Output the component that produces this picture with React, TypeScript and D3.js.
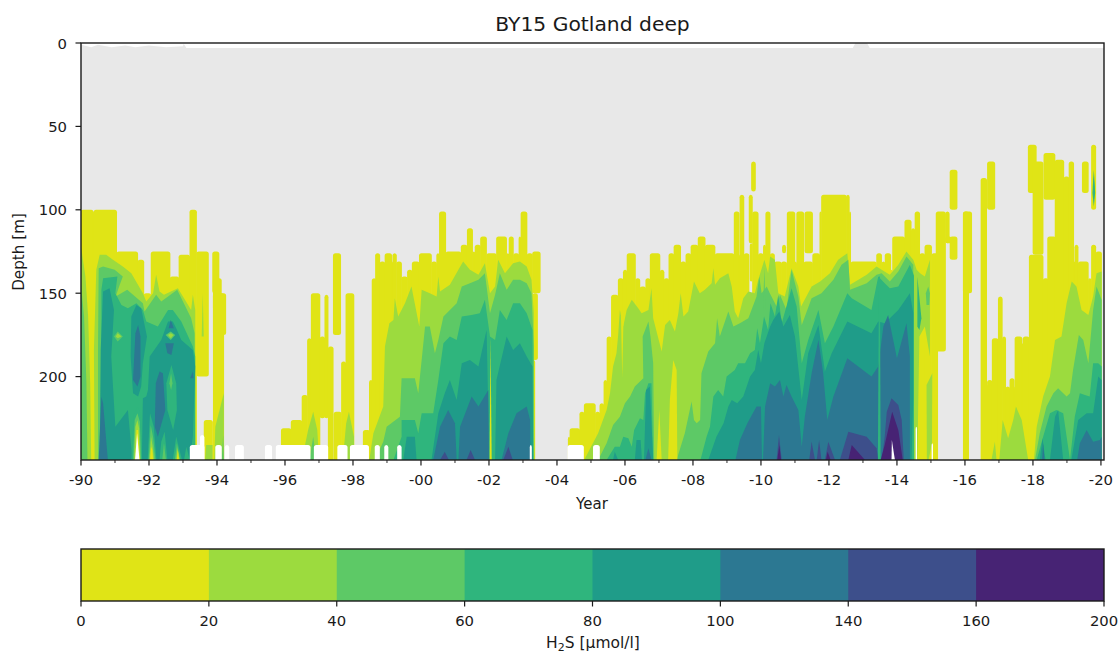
import React from "react";
import * as d3 from "d3";

type P = [number, number];

const bandEdges = [0, 20, 40, 60, 80, 100, 140, 160, 200];
const bandColors = ["#e0e416", "#9cdb3e", "#5dc966", "#2fb57d", "#1f9c89", "#2c7892", "#3d4f8b", "#472374"];
const yearTicks = d3.range(1990, 2021, 2);
const minorYears = d3.range(1991, 2021, 2);
const depthTicks = [0, 50, 100, 150, 200];

// [start year, end year, top depth, bottom depth] of the 0-20 columns
const yellowA = [
  [1990, 1990.36, 100, 250], [1990.36, 1990.39, 101, 250], [1990.38, 1991.05, 100, 250], [1991.05, 1991.67, 125, 250],
  [1991.67, 1991.85, 130, 250], [1991.85, 1992.06, 150, 250], [1992.06, 1992.62, 125, 250], [1992.62, 1992.88, 140, 250],
  [1992.88, 1993.2, 127, 250], [1993.2, 1993.4, 100, 250], [1993.4, 1993.75, 125, 200], [1993.62, 1993.87, 226, 250],
  [1993.87, 1994.06, 125, 150], [1993.89, 1994.13, 141, 160], [1993.89, 1994.26, 150, 175], [1993.89, 1994.2, 150, 250],
];
const yellowGap = [
  [1995.89, 1996.18, 231, 250], [1996.18, 1996.5, 226, 250], [1996.5, 1996.66, 211, 250], [1996.66, 1996.77, 177, 250],
  [1996.77, 1997.03, 150, 250], [1997.03, 1997.17, 176, 225], [1997.17, 1997.27, 151, 225], [1997.27, 1997.42, 182, 250],
  [1997.42, 1997.64, 126, 175], [1997.44, 1997.66, 221, 250], [1997.66, 1997.79, 191, 250], [1997.79, 1998.03, 150, 250],
];
const yellowB = [
  [1998.3, 1998.5, 232, 250], [1998.48, 1998.58, 202, 250], [1998.56, 1998.68, 141, 250], [1998.66, 1998.79, 126, 250],
  [1998.79, 1998.94, 131, 250], [1998.94, 1999.14, 126, 250], [1999.14, 1999.17, 131, 250], [1999.17, 1999.28, 126, 250],
  [1999.28, 1999.43, 131, 250], [1999.43, 1999.6, 140, 250], [1999.6, 1999.74, 136, 250], [1999.74, 1999.95, 131, 250],
  [1999.95, 2000.31, 126, 250], [2000.31, 2000.46, 131, 250], [2000.46, 2000.54, 126, 250], [2000.54, 2000.73, 101, 250],
  [2000.73, 2001.18, 125, 250], [2001.18, 2001.36, 121, 250], [2001.36, 2001.52, 111, 250], [2001.52, 2001.59, 125, 250],
  [2001.59, 2001.75, 121, 250], [2001.75, 2001.93, 116, 250], [2001.93, 2002.22, 126, 250], [2002.22, 2002.52, 116, 250],
  [2002.52, 2002.59, 126, 250], [2002.59, 2002.72, 116, 250], [2002.72, 2002.88, 126, 250], [2002.88, 2002.94, 116, 250],
  [2002.94, 2003.12, 101, 250], [2003.12, 2003.28, 126, 250], [2003.28, 2003.51, 125, 150], [2003.28, 2003.43, 150, 190],
  [2003.28, 2003.35, 190, 250],
];
const yellowC = [
  [2004.33, 2004.38, 236, 250], [2004.38, 2004.67, 231, 250], [2004.67, 2004.8, 221, 250], [2004.8, 2005.13, 216, 250],
  [2005.13, 2005.26, 221, 250], [2005.26, 2005.38, 216, 250], [2005.38, 2005.47, 202, 250], [2005.47, 2005.6, 176, 250],
  [2005.6, 2005.8, 151, 250], [2005.8, 2005.95, 141, 250], [2005.95, 2006.06, 136, 250], [2006.06, 2006.31, 126, 250],
  [2006.31, 2006.44, 141, 250], [2006.44, 2006.61, 146, 250], [2006.61, 2006.74, 141, 250], [2006.74, 2007.03, 126, 250],
  [2007.03, 2007.15, 136, 250], [2007.15, 2007.29, 141, 250], [2007.29, 2007.44, 126, 250], [2007.44, 2007.64, 121, 250],
  [2007.64, 2007.79, 131, 250], [2007.79, 2007.94, 126, 250], [2007.94, 2008.15, 121, 250], [2008.15, 2008.36, 116, 250],
  [2008.36, 2008.65, 121, 250], [2008.65, 2009.21, 126, 250], [2009.21, 2009.36, 101, 250], [2009.36, 2009.38, 127, 250],
  [2009.38, 2009.5, 91, 250], [2009.5, 2009.65, 126, 250], [2009.65, 2009.75, 91, 120], [2009.68, 2009.75, 120, 143],
  [2009.72, 2009.84, 71, 89], [2009.75, 2009.92, 101, 250], [2009.92, 2010.07, 126, 250], [2010.07, 2010.14, 121, 250],
  [2010.14, 2010.27, 101, 250], [2010.27, 2010.4, 126, 250], [2010.4, 2010.6, 131, 250], [2010.63, 2010.73, 121, 126],
  [2010.6, 2010.75, 131, 250], [2010.77, 2011, 101, 250], [2010.75, 2011.05, 131, 250], [2011.05, 2011.26, 101, 250],
  [2011.29, 2011.52, 101, 126], [2011.26, 2011.52, 131, 250], [2011.52, 2011.73, 126, 250], [2011.73, 2011.78, 101, 250],
  [2011.78, 2012.52, 91, 250], [2012.52, 2012.6, 91, 250], [2012.6, 2012.64, 101, 250], [2012.64, 2013.4, 131, 250],
  [2013.4, 2013.55, 126, 250], [2013.55, 2013.65, 131, 250], [2013.65, 2013.82, 126, 250], [2013.82, 2013.87, 136, 250],
  [2013.87, 2014.23, 116, 250], [2014.23, 2014.42, 106, 250], [2014.42, 2014.53, 111, 250], [2014.53, 2014.67, 101, 250],
  [2014.67, 2014.82, 126, 250], [2014.82, 2015.02, 121, 250], [2015.02, 2015.2, 126, 250], [2015.15, 2015.43, 101, 185],
  [2015.43, 2015.54, 101, 120], [2015.43, 2015.6, 116, 120],
];
const yellowD = [
  [2015.56, 2015.77, 76, 100], [2015.56, 2015.77, 116, 130], [2015.95, 2016.2, 101, 150], [2015.95, 2016.11, 101, 250],
  [2016.47, 2016.64, 81, 250], [2016.66, 2016.88, 71, 100], [2016.66, 2016.8, 202, 250], [2016.64, 2016.68, 205, 250],
  [2016.8, 2016.98, 177, 250], [2016.98, 2017.1, 152, 250], [2017.1, 2017.2, 176, 250], [2017.2, 2017.32, 206, 250],
  [2017.32, 2017.45, 201, 250], [2017.45, 2017.5, 206, 250], [2017.47, 2017.68, 176, 250], [2017.68, 2017.71, 180, 250],
  [2017.71, 2017.89, 176, 250], [2017.89, 2018.3, 127, 250], [2017.86, 2018.1, 61, 90], [2018, 2018.3, 71, 127],
  [2018.3, 2018.45, 141, 250], [2018.43, 2018.67, 116, 250], [2018.32, 2018.65, 66, 94], [2018.65, 2018.91, 70, 250],
  [2018.91, 2019.06, 80, 250], [2019.06, 2019.2, 71, 250], [2019.2, 2019.25, 131, 250], [2019.23, 2019.33, 121, 250],
  [2019.33, 2019.63, 131, 250], [2019.63, 2019.72, 141, 250], [2019.72, 2019.85, 121, 250], [2019.85, 2020.02, 125, 250],
  [2019.45, 2019.63, 71, 90], [2019.72, 2019.85, 61, 100],
];

const level20: P[][] = [
  [[1990, 122], [1990.13, 140], [1990.21, 164], [1990.27, 204], [1990.3, 250], [1990, 250]],
  [[1990.4, 250], [1990.38, 184], [1990.45, 136], [1990.55, 127], [1990.74, 127], [1990.94, 130], [1991.23, 134], [1991.48, 138], [1991.82, 150], [1991.92, 155], [1992.12, 150], [1992.21, 139], [1992.31, 149], [1992.44, 151], [1992.85, 147], [1993.24, 160], [1993.29, 151], [1993.36, 160], [1993.36, 250]],
  [[1998.48, 250], [1998.6, 234], [1998.89, 218], [1998.94, 182], [1999.07, 168], [1999.19, 166], [1999.23, 153], [1999.33, 164], [1999.53, 156], [1999.72, 146], [1999.95, 170], [2000.02, 148], [2000.26, 150], [2000.46, 152], [2000.51, 140], [2000.56, 149], [2000.85, 145], [2001.1, 136], [2001.24, 131], [2001.44, 136], [2001.69, 139], [2001.88, 132], [2002.03, 150], [2002.18, 146], [2002.27, 130], [2002.47, 138], [2002.71, 132], [2002.91, 131], [2003.11, 134], [2003.25, 142], [2003.32, 162], [2003.33, 250]],
  [[2004.8, 250], [2005.21, 234], [2005.46, 220], [2005.56, 210], [2005.65, 194], [2005.75, 186], [2005.8, 175], [2005.85, 160], [2005.95, 170], [2006.05, 160], [2006.2, 154], [2006.39, 159], [2006.49, 162], [2006.69, 160], [2006.78, 147], [2006.83, 165], [2007.08, 185], [2007.18, 169], [2007.32, 166], [2007.47, 173], [2007.57, 162], [2007.64, 150], [2007.72, 164], [2007.86, 161], [2008.03, 143], [2008.2, 150], [2008.35, 148], [2008.55, 144], [2008.6, 135], [2008.65, 145], [2008.79, 141], [2009.04, 138], [2009.14, 146], [2009.23, 161], [2009.33, 165], [2009.48, 153], [2009.63, 149], [2009.82, 150], [2009.92, 142], [2010.1, 130], [2010.21, 138], [2010.27, 128], [2010.41, 130], [2010.51, 150], [2010.7, 152], [2010.9, 135], [2011.1, 146], [2011.18, 158], [2011.49, 146], [2011.74, 143], [2012.03, 138], [2012.27, 130], [2012.54, 126], [2012.62, 145], [2013.11, 139], [2013.4, 134], [2013.55, 136], [2013.79, 139], [2014.04, 133], [2014.28, 125], [2014.48, 130], [2014.58, 136], [2014.68, 138], [2014.82, 140], [2014.97, 130], [2014.97, 188], [2014.82, 170], [2014.66, 176], [2014.6, 250]],
  [[2016.78, 250], [2016.88, 239], [2016.93, 250]],
  [[2017.01, 250], [2017.11, 226], [2017.27, 237], [2017.42, 226], [2017.5, 218], [2017.67, 226], [2017.86, 250]],
  [[2018.03, 250], [2018.11, 230], [2018.3, 212], [2018.5, 200], [2018.65, 178], [2018.84, 176], [2018.99, 156], [2019.14, 143], [2019.28, 146], [2019.43, 160], [2019.63, 163], [2019.77, 152], [2019.87, 138], [2020.02, 137], [2020.02, 250]],
];
const level40: P[][] = [
  [[1990, 145], [1990.09, 164], [1990.16, 204], [1990.19, 250], [1990, 250]],
  [[1990.5, 250], [1990.5, 184], [1990.52, 135], [1990.65, 134], [1990.99, 136], [1991.23, 140], [1991.14, 145], [1991.02, 152], [1991.36, 148], [1991.53, 151], [1991.82, 156], [1991.87, 161], [1992.21, 151], [1992.36, 155], [1992.83, 148], [1993.24, 165], [1993.34, 174], [1993.36, 250]],
  [[1998.65, 250], [1998.89, 239], [1998.99, 230], [1999.38, 224], [1999.43, 201], [1999.82, 201], [1999.92, 210], [2000.02, 190], [2000.12, 170], [2000.26, 170], [2000.41, 186], [2000.51, 178], [2000.66, 164], [2001.05, 156], [2001.2, 146], [2001.44, 144], [2001.69, 142], [2001.88, 138], [2002.03, 162], [2002.18, 151], [2002.32, 138], [2002.52, 148], [2002.71, 142], [2002.91, 142], [2003.11, 144], [2003.25, 150], [2003.32, 182], [2003.33, 250]],
  [[2005.21, 250], [2005.46, 240], [2005.65, 229], [2005.85, 224], [2006, 216], [2006.15, 212], [2006.29, 206], [2006.54, 201], [2006.52, 176], [2006.69, 167], [2006.75, 176], [2006.83, 192], [2006.86, 250]],
  [[2007.52, 250], [2007.76, 234], [2007.96, 215], [2008.03, 226], [2008.11, 228], [2008.21, 226], [2008.25, 198], [2008.45, 185], [2008.65, 180], [2008.71, 165], [2008.79, 176], [2009.04, 161], [2009.19, 170], [2009.38, 168], [2009.63, 165], [2009.87, 152], [2009.95, 140], [2010.02, 150], [2010.17, 146], [2010.26, 150], [2010.46, 158], [2010.56, 151], [2010.75, 160], [2010.9, 136], [2011.1, 152], [2011.2, 169], [2011.49, 153], [2011.78, 150], [2012.13, 142], [2012.37, 133], [2012.57, 130], [2012.62, 148], [2013.11, 144], [2013.4, 139], [2013.55, 138], [2013.79, 143], [2014.04, 137], [2014.28, 128], [2014.48, 133], [2014.5, 250]],
  [[2018.06, 250], [2018.2, 234], [2018.4, 218], [2018.6, 210], [2018.74, 207], [2018.99, 212], [2019.09, 210], [2019.18, 196], [2019.35, 175], [2019.48, 178], [2019.63, 192], [2019.77, 160], [2019.87, 146], [2020.02, 154], [2020.02, 250]],
];
const level60: P[][] = [
  [[1990.6, 250], [1990.6, 148], [1990.65, 141], [1991.07, 140], [1991.01, 150], [1991.19, 157], [1991.38, 159], [1991.63, 156], [1991.82, 160], [1991.92, 167], [1992.26, 170], [1992.56, 160], [1992.7, 160], [1992.95, 167], [1993.29, 182], [1993.36, 188], [1993.36, 250]],
  [[1999.19, 250], [1999.43, 236], [1999.43, 226], [1999.82, 226], [1999.92, 234], [2000.02, 222], [2000.36, 222], [2000.51, 202], [2000.66, 180], [2000.85, 176], [2001.05, 178], [2001.2, 164], [2001.49, 163], [2001.73, 162], [2001.88, 154], [2002.03, 176], [2002.18, 178], [2002.32, 160], [2002.52, 166], [2002.71, 156], [2002.91, 156], [2003.11, 162], [2003.28, 172], [2003.3, 250]],
  [[2005.46, 250], [2005.7, 242], [2005.85, 242], [2005.95, 236], [2006.1, 237], [2006.2, 242], [2006.27, 232], [2006.44, 225], [2006.54, 226], [2006.59, 210], [2006.69, 204], [2006.78, 204], [2006.83, 250]],
  [[2008.22, 250], [2008.4, 236], [2008.5, 230], [2008.6, 212], [2008.74, 208], [2008.89, 212], [2008.99, 200], [2009.23, 196], [2009.33, 192], [2009.53, 192], [2009.68, 186], [2009.82, 184], [2009.89, 171], [2009.97, 180], [2010.09, 164], [2010.21, 172], [2010.28, 156], [2010.41, 164], [2010.51, 151], [2010.61, 168], [2010.9, 147], [2011.05, 158], [2011.2, 192], [2011.39, 178], [2011.69, 160], [2011.88, 180], [2012.13, 170], [2012.54, 150], [2012.67, 153], [2013.25, 160], [2013.45, 140], [2013.64, 144], [2013.79, 147], [2014.04, 146], [2014.38, 133], [2014.51, 140], [2014.51, 250]],
  [[2018.11, 250], [2018.3, 236], [2018.5, 222], [2018.69, 220], [2018.89, 222], [2019.09, 250], [2019.23, 224], [2019.38, 210], [2019.53, 211], [2019.67, 212], [2019.77, 192], [2019.92, 192], [2020.02, 194], [2020.02, 250]],
];
const level80: P[][] = [
  [[1990.55, 250], [1990.58, 184], [1990.65, 149], [1990.84, 147], [1990.97, 160], [1990.89, 188], [1991.01, 230], [1991.38, 220], [1991.51, 250]],
  [[1991.46, 188], [1991.48, 164], [1991.63, 157], [1991.77, 159], [1991.94, 176], [1991.82, 192], [1991.77, 206], [1991.68, 212], [1991.53, 210]],
  [[1991.79, 250], [1991.82, 213], [1991.92, 212], [1991.97, 208], [1992.02, 188], [1992.36, 178], [1992.56, 167], [1992.7, 167], [1992.8, 171], [1992.95, 178], [1993.29, 184], [1993.36, 194], [1993.29, 236], [1993.2, 250]],
  [[1999.48, 250], [1999.58, 236], [1999.82, 236], [1999.87, 250]],
  [[2000.31, 250], [2000.51, 222], [2000.7, 210], [2000.85, 202], [2001.05, 214], [2001.2, 192], [2001.44, 190], [2001.69, 194], [2001.93, 172], [2002.01, 250]],
  [[2002.18, 250], [2002.22, 202], [2002.52, 176], [2002.71, 184], [2002.91, 180], [2003.11, 188], [2003.28, 194], [2003.3, 250]],
  [[2005.65, 250], [2005.7, 245], [2005.8, 250]],
  [[2006.29, 250], [2006.34, 238], [2006.46, 238], [2006.5, 250]],
  [[2006.56, 250], [2006.62, 208], [2006.73, 206], [2006.83, 250]],
  [[2008.45, 250], [2008.69, 236], [2008.9, 228], [2009.04, 218], [2009.14, 214], [2009.3, 216], [2009.48, 212], [2009.68, 200], [2009.82, 196], [2009.92, 184], [2010, 192], [2010.1, 180], [2010.27, 170], [2010.36, 166], [2010.54, 161], [2010.66, 170], [2010.85, 163], [2011, 176], [2011.2, 214], [2011.39, 186], [2011.69, 169], [2011.88, 197], [2012.08, 186], [2012.54, 167], [2013.25, 174], [2013.45, 167], [2013.64, 168], [2013.79, 165], [2014.04, 160], [2014.38, 150], [2014.48, 162], [2014.48, 212], [2014.43, 250]],
  [[2018.2, 250], [2018.28, 237], [2018.37, 250]],
  [[2018.5, 250], [2018.65, 224], [2018.74, 220], [2018.89, 250]],
  [[2019.13, 250], [2019.33, 226], [2019.58, 222], [2019.77, 222], [2019.92, 200], [2020.02, 202], [2020.02, 250]],
];
const level100: P[][] = [
  [[1990.52, 250], [1990.6, 212], [1990.65, 216], [1990.79, 250]],
  [[1991.53, 202], [1991.6, 174], [1991.68, 169], [1991.75, 176], [1991.75, 200], [1991.66, 206]],
  [[1992.17, 230], [1992.2, 204], [1992.31, 197], [1992.41, 198], [1992.48, 220], [1992.26, 236]],
  [[1992.48, 180], [1992.56, 180], [1992.73, 180], [1992.66, 187], [1992.54, 186]],
  [[1992.58, 171], [1992.64, 166], [1992.73, 171]],
  [[1993.21, 201], [1993.29, 197], [1993.31, 201]],
  [[2000.36, 250], [2000.56, 230], [2000.8, 220], [2001, 228], [2001.05, 250]],
  [[2001.1, 250], [2001.15, 230], [2001.49, 212], [2001.69, 218], [2001.98, 208], [2002, 250]],
  [[2002.37, 250], [2002.57, 234], [2002.81, 222], [2003.11, 218], [2003.21, 226], [2003.22, 250]],
  [[2006.6, 250], [2006.69, 243], [2006.78, 250]],
  [[2009.25, 250], [2009.38, 238], [2009.6, 228], [2009.87, 218], [2010, 218], [2010.03, 250], [2010.06, 250], [2010.12, 218], [2010.27, 204], [2010.41, 206], [2010.56, 202], [2010.66, 212], [2010.75, 205], [2010.9, 212], [2011.1, 220], [2011.2, 242], [2011.29, 224], [2011.49, 198], [2011.69, 178], [2011.83, 198], [2011.95, 226], [2012.13, 212], [2012.54, 189], [2013.25, 200], [2013.45, 194], [2013.6, 170], [2013.74, 163], [2014, 189], [2014.28, 168], [2014.38, 188], [2014.38, 250]],
  [[2018.27, 250], [2018.3, 240], [2018.34, 250]],
  [[2019.3, 250], [2019.38, 240], [2019.58, 232], [2019.77, 239], [2019.97, 238], [2020.02, 236], [2020.02, 250]],
];
const level140: P[][] = [
  [[2000.56, 250], [2000.7, 245], [2000.82, 250]],
  [[2001.34, 250], [2001.46, 244], [2001.59, 250]],
  [[2002.42, 250], [2002.57, 242], [2002.7, 250]],
  [[2010.46, 250], [2010.53, 235], [2010.61, 250]],
  [[2011.42, 250], [2011.49, 239], [2011.59, 250]],
  [[2011.64, 250], [2011.71, 238], [2011.78, 250]],
  [[2011.88, 250], [2011.98, 239], [2012.18, 250]],
  [[2012.32, 250], [2012.57, 233], [2013.11, 236], [2013.4, 243], [2013.45, 250]],
  [[2013.55, 250], [2013.64, 236], [2013.7, 221], [2013.84, 213], [2014.04, 217], [2014.14, 226], [2014.2, 250]],
];
const level160: P[][] = [
  [[2010.48, 250], [2010.54, 241], [2010.59, 250]],
  [[2011.91, 250], [2011.96, 245], [2012.05, 250]],
  [[2012.57, 250], [2012.67, 241], [2013.06, 250]],
  [[2013.52, 250], [2013.64, 241], [2013.86, 221], [2014.04, 232], [2014.17, 250]],
];

// small closed features laid over the bands: band index (-1 = no data), outline
const patchBands = [
  2, 1, 2, 1, 3, 2, 3, 2, 1, 0, -1, 3, 2, 1, 0, 3, 2, 3, 2, 1, 0, 3,
  1, 1, 2, 1, 1, 2, 2, 1, 0, 0, 0, 3, 0, -1, 1, 2, 2, 3, 3, 1, 3,
];
const patchShapes: P[][] = [
  [[1990.97, 176], [1991.08, 173], [1991.23, 176], [1991.08, 179]],
  [[1991.02, 176], [1991.08, 174], [1991.19, 176], [1991.08, 177]],
  [[1992.49, 175], [1992.64, 173], [1992.77, 175], [1992.64, 178]],
  [[1992.56, 175], [1992.64, 174], [1992.72, 175], [1992.64, 177]],
  [[1992.51, 204], [1992.66, 193], [1992.8, 204], [1992.82, 220], [1992.71, 232], [1992.54, 220]],
  [[1992.6, 204], [1992.65, 198], [1992.69, 204], [1992.65, 208]],
  [[1991.48, 250], [1991.56, 222], [1991.66, 218], [1991.75, 222], [1991.79, 250]],
  [[1991.53, 250], [1991.58, 226], [1991.66, 222], [1991.73, 227], [1991.77, 250]],
  [[1991.56, 250], [1991.6, 230], [1991.66, 226], [1991.71, 231], [1991.74, 250]],
  [[1991.6, 250], [1991.63, 232], [1991.68, 232], [1991.73, 250]],
  [[1991.59, 250], [1991.65, 234], [1991.72, 250]],
  [[1991.96, 250], [1992.03, 222], [1992.14, 230], [1992.22, 250]],
  [[1991.99, 250], [1992.05, 229], [1992.12, 236], [1992.19, 250]],
  [[1992.01, 250], [1992.06, 236], [1992.11, 242], [1992.15, 250]],
  [[1992.03, 250], [1992.06, 242], [1992.1, 244], [1992.12, 250]],
  [[1992.31, 250], [1992.36, 239], [1992.46, 233], [1992.54, 250]],
  [[1992.39, 250], [1992.44, 240], [1992.5, 250]],
  [[1992.7, 250], [1992.8, 236], [1992.97, 250]],
  [[1992.76, 250], [1992.82, 240], [1992.92, 250]],
  [[1992.8, 250], [1992.84, 243], [1992.9, 250]],
  [[1992.82, 250], [1992.85, 244], [1992.88, 250]],
  [[1993.03, 250], [1993.1, 242], [1993.2, 250]],
  [[1993.55, 176], [1993.58, 150], [1993.61, 176]],
  [[1993.92, 250], [1993.95, 230], [1994.2, 210], [1994.2, 250]],
  [[1994.14, 250], [1994.18, 235], [1994.2, 250]],
  [[1993.65, 250], [1993.68, 241], [1993.87, 241], [1993.87, 250]],
  [[1996.5, 250], [1996.68, 232], [1996.83, 221], [1996.95, 232], [1997, 250]],
  [[1996.72, 250], [1996.83, 236], [1996.92, 250]],
  [[1997.75, 250], [1997.85, 231], [1997.91, 230], [1998, 250]],
  [[1997.7, 250], [1997.8, 228], [1997.88, 221], [1998.03, 236], [1998.03, 250]],
  [[2002.02, 250], [2002.045, 176], [2002.08, 250]],
  [[2005.88, 162], [2005.96, 162], [2005.92, 201]],
  [[2006.93, 250], [2007.01, 220], [2007.08, 250]],
  [[2013.44, 250], [2013.47, 140], [2013.5, 140], [2013.52, 250]],
  [[2007.27, 250], [2007.32, 214], [2007.42, 190], [2007.52, 196], [2007.54, 250]],
  [[2013.84, 250], [2013.85, 238], [2013.94, 250]],
  [[2014.5, 250], [2014.5, 135], [2014.56, 135], [2014.56, 250]],
  [[2014.85, 150], [2014.92, 146], [2014.97, 150], [2014.95, 157], [2014.87, 157]],
  [[2010.06, 160], [2010.1, 135], [2010.13, 160]],
  [[2014.6, 140], [2014.72, 165], [2014.66, 172], [2014.6, 170]],
  [[2019.75, 90], [2019.79, 76], [2019.83, 90], [2019.79, 98]],
  [[2014.87, 205], [2015.04, 198], [2015.03, 240], [2014.93, 250], [2014.88, 250]],
  [[2019.77, 86], [2019.79, 80], [2019.81, 86], [2019.79, 92]],
];

// no-data blocks at the sea floor: start year, end year, top depth
const emptyBlocks = [
  [1993.2, 1993.63, 241], [1993.5, 1993.63, 235], [1993.95, 1994.14, 241], [1994.23, 1994.36, 241], [1994.53, 1994.79, 241],
  [1995.41, 1995.62, 241], [1995.73, 1996.75, 241], [1996.85, 1997.27, 241], [1997.54, 1997.84, 241], [1997.91, 1998.47, 241],
  [1998.64, 1998.79, 241], [1998.92, 1999.04, 241], [1999.3, 1999.43, 241], [2003.2, 2003.26, 241], [2004.31, 2004.79, 241],
  [2005.06, 2005.26, 241], [2014.55, 2014.59, 230], [2015.02, 2015.06, 240],
];
const surfaceYears = [1990, 1990.3, 1990.5, 1990.9, 1991.3, 1991.6, 1992, 1992.5, 1993, 1993.02, 1993.1, 2012.7, 2012.78, 2013.12, 2013.2, 2020.1];
const surfaceDepths = [1, 2.5, 1, 2.5, 1.5, 2.5, 1.5, 2.5, 2, 0.5, 3, 3, 0, 0, 3, 3];

const left = 81, right = 1104, top = 43, bottom = 460;
const barTop = 549, barBottom = 601;
const font = "'DejaVu Sans', sans-serif";
const black = "#1a1a1a";

export default function App() {
  const x = d3.scaleLinear().domain([1990, 2020.09]).range([left, right]);
  const y = d3.scaleLinear().domain([0, 250]).range([top, bottom]);
  const bar = d3.scalePoint<number>().domain(bandEdges).range([left, right]);
  const outline = d3.line<P>().x((d) => x(d[0])).y((d) => y(d[1]));
  const surface: P[] = [
    [1990, 0],
    ...surfaceYears.map((t, i): P => [t, surfaceDepths[i]]),
    [2020.1, 0],
  ];
  const levels = [level20, level40, level60, level80, level100, level140, level160];
  const columns = [...yellowA, ...yellowGap, ...yellowB, ...yellowC, ...yellowD];
  const tickLabel = (t: number) => `-${String(t % 100).padStart(2, "0")}`;

  return (
    <svg width={1120} height={654} style={{ position: "absolute", left: 0, top: 0, background: "#fff" }} fontFamily={font} fill={black}>
      <defs>
        <clipPath id="plot">
          <rect x={left} y={top} width={right - left} height={bottom - top} />
        </clipPath>
      </defs>
      <text x={592.5} y={31} fontSize={20.3} textAnchor="middle">BY15 Gotland deep</text>
      <g clipPath="url(#plot)">
        <rect x={left} y={top} width={right - left} height={bottom - top} fill="#e8e8e8" />
        <path d={outline(surface) + "Z"} fill="#fff" />
        {columns.map(([a, b, t, d], i) => (
          <rect key={i} x={x(a) - 0.3} width={x(b) - x(a) + 0.6} y={y(t)} height={y(d === 250 ? 256 : d) - y(t)} rx={2.5} fill={bandColors[0]} />
        ))}
        {levels.map((polys, k) =>
          polys.map((p, i) => <path key={`${k}-${i}`} d={outline(p) + "Z"} fill={bandColors[k + 1]} />)
        )}
        {patchShapes.map((p, i) => (
          <path key={i} d={outline(p) + "Z"} fill={patchBands[i] < 0 ? "#fff" : bandColors[patchBands[i]]} />
        ))}
        {emptyBlocks.map(([a, b, t], i) => (
          <rect key={i} x={x(a)} width={x(b) - x(a)} y={y(t)} height={y(256) - y(t)} rx={2.5} fill="#fff" />
        ))}
      </g>
      <rect x={left} y={top} width={right - left} height={bottom - top} fill="none" stroke={black} strokeWidth={1.4} />
      {yearTicks.map((t) => (
        <g key={t} transform={`translate(${x(t)},${bottom})`}>
          <line y2={5.5} stroke={black} strokeWidth={1.2} />
          <text y={25} fontSize={14.8} textAnchor="middle">{tickLabel(t)}</text>
        </g>
      ))}
      {minorYears.map((t) => (
        <line key={t} x1={x(t)} x2={x(t)} y1={bottom} y2={bottom + 3} stroke={black} strokeWidth={0.9} />
      ))}
      {depthTicks.map((d) => (
        <g key={d} transform={`translate(${left},${y(d)})`}>
          <line x2={-5.5} stroke={black} strokeWidth={1.2} />
          <text x={-14} y={5.5} fontSize={14.8} textAnchor="end">{d}</text>
        </g>
      ))}
      <text x={592} y={509} fontSize={15} textAnchor="middle">Year</text>
      <text transform="translate(24,252) rotate(-90)" fontSize={15.2} textAnchor="middle">Depth [m]</text>

      {bandColors.map((c, i) => (
        <rect key={c} x={bar(bandEdges[i])!} width={bar(bandEdges[i + 1])! - bar(bandEdges[i])! + (i < 7 ? 1 : 0)} y={barTop} height={barBottom - barTop} fill={c} />
      ))}
      <rect x={left} y={barTop} width={right - left} height={barBottom - barTop} fill="none" stroke={black} strokeWidth={1.4} />
      {bandEdges.map((v) => (
        <g key={v} transform={`translate(${bar(v)},${barBottom})`}>
          <line y2={5.5} stroke={black} strokeWidth={1.2} />
          <text y={25} fontSize={14.8} textAnchor="middle">{v}</text>
        </g>
      ))}
      <text x={593} y={648} fontSize={15.5} textAnchor="middle">
        H<tspan fontSize={11} dy={2.5}>2</tspan><tspan dy={-2.5}>S [µmol/l]</tspan>
      </text>
    </svg>
  );
}
